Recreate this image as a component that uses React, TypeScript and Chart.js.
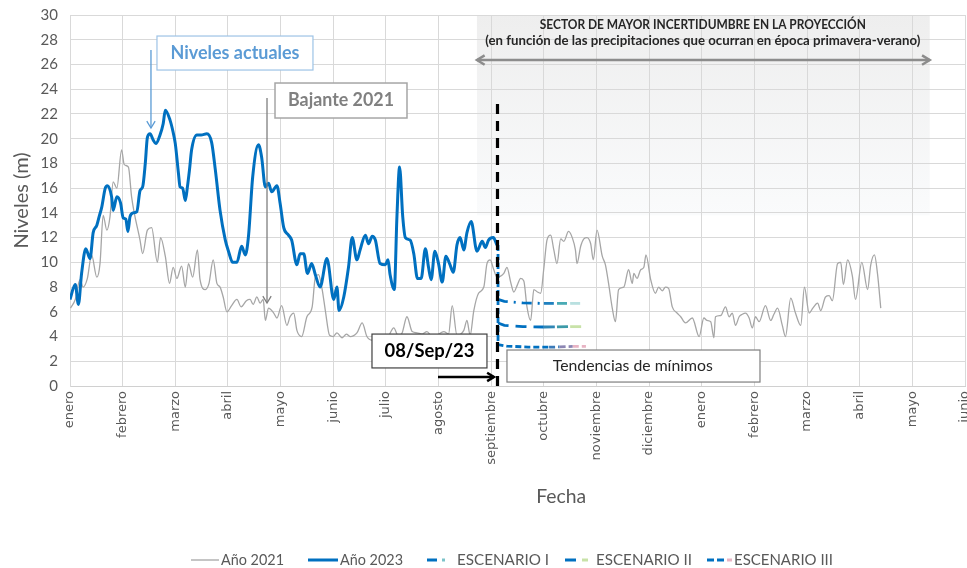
import React, { useEffect, useRef } from "react";
import { Chart, registerables } from "chart.js";
Chart.register(...registerables);

const MONTH_LABELS = ["enero","febrero","marzo","abril","mayo","junio","julio","agosto","septiembre","octubre","noviembre","diciembre","enero","febrero","marzo","abril","mayo","junio"];

const YEAR2021_X = [0.01,0.10,0.19,0.25,0.33,0.41,0.51,0.57,0.63,0.70,
0.76,0.82,0.89,0.98,1.03,1.11,1.17,1.33,1.38,
1.47,1.55,1.66,1.72,1.81,1.89,1.96,2.03,2.12,2.19,
2.25,2.33,2.42,2.47,2.57,2.64,2.72,2.79,2.85,2.91,
2.98,3.07,3.17,3.25,3.35,3.42,3.48,3.55,3.61,3.67,
3.71,3.77,3.87,3.93,4.02,4.12,4.18,4.25,4.31,4.40,
4.50,4.60,4.66,4.72,4.79,4.85,4.93,5.00,5.07,5.17,
5.25,5.32,5.45,5.55,5.64,5.74,5.82,5.89,6.02,6.15,
6.24,6.31,6.40,6.50,6.59,6.69,6.78,6.88,6.97,7.10,
7.19,7.26,7.35,7.48,7.54,7.60,7.67,7.76,7.86,7.92,
7.98,8.05,8.11,8.24,8.30,8.37,8.43,8.50,8.56,8.62,
8.68,8.75,8.81,8.88,8.94,9.00,9.06,9.13,9.19,9.25,
9.32,9.38,9.47,9.54,9.60,9.63,9.70,9.76,9.82,9.89,
9.94,10.01,10.11,10.17,10.23,10.30,10.36,10.42,10.52,10.61,
10.68,10.71,10.77,10.84,10.90,10.94,11.03,11.12,11.18,11.25,
11.31,11.37,11.44,11.53,11.60,11.69,11.82,11.95,12.04,12.10,
12.17,12.23,12.26,12.36,12.45,12.52,12.58,12.64,12.71,12.77,
12.83,12.90,12.96,13.02,13.09,13.21,13.31,13.37,13.44,13.53,
13.59,13.69,13.78,13.88,13.95,14.04,14.11,14.20,14.26,14.35,
14.42,14.48,14.58,14.64,14.69,14.77,14.86,14.92,15.04,15.15,
15.21,15.28,15.34,15.40];
const YEAR2021_Y = [6.3,7.0,8.6,8.0,8.7,10.6,8.8,9.9,13.8,12.6,
13.7,16.5,16.0,19.1,17.9,17.7,15.3,11.8,10.7,
12.6,12.8,10.0,12.0,10.5,8.3,9.6,8.7,9.7,8.0,
9.9,8.8,11.0,8.6,7.8,8.3,10.2,8.3,8.0,7.2,
6.0,6.5,7.0,6.4,6.9,7.0,6.6,7.2,6.7,7.0,
5.3,6.3,5.9,5.5,6.5,4.9,5.6,5.9,4.5,4.0,
5.6,6.4,8.8,9.0,7.8,6.1,4.1,4.0,4.3,3.9,
4.2,4.0,4.3,5.1,4.0,3.7,4.0,4.1,3.9,4.7,
4.0,4.3,5.6,4.4,4.3,4.2,4.4,4.0,4.1,4.4,
4.2,6.5,4.1,4.5,5.3,4.1,6.1,7.5,8.0,9.9,
10.2,9.4,8.8,9.1,9.6,8.4,7.6,8.2,8.7,8.5,
6.4,5.3,7.8,7.6,7.5,9.5,11.8,12.2,11.0,9.9,
11.9,11.7,12.5,12.0,11.0,9.9,11.3,11.9,12.0,11.5,
10.2,12.6,10.5,9.8,8.3,6.3,5.2,7.8,8.0,9.4,
8.3,9.1,8.7,9.4,9.6,10.6,8.6,7.5,8.0,7.7,
8.0,7.9,6.4,5.9,5.6,5.1,5.5,4.0,5.5,5.3,
5.2,3.9,5.6,5.7,6.4,5.6,5.9,4.9,5.6,5.8,
5.9,5.5,4.7,5.6,5.2,6.5,5.3,5.8,6.3,4.9,
4.0,7.1,5.9,4.9,8.0,5.9,6.3,6.7,6.1,7.2,
7.3,6.9,9.9,10.0,8.2,10.2,8.9,7.0,10.0,7.8,
9.8,10.6,9.0,6.3];

const YEAR2023_X = [0,0.10,0.16,0.22,0.30,0.38,0.44,0.51,0.56,0.60,
0.67,0.71,0.79,0.82,0.89,0.96,1.01,1.06,1.10,1.14,
1.20,1.27,1.33,1.38,1.43,1.47,1.52,1.58,1.63,1.71,
1.77,1.81,1.90,1.96,2.00,2.06,2.09,2.14,2.19,2.23,
2.27,2.31,2.41,2.49,2.60,2.69,2.76,2.85,2.95,3.01,
3.09,3.17,3.26,3.33,3.39,3.47,3.58,3.64,3.71,3.77,
3.83,3.93,3.99,4.06,4.15,4.21,4.31,4.37,4.44,4.51,
4.59,4.66,4.75,4.88,5.01,5.07,5.11,5.20,5.29,5.36,
5.45,5.51,5.61,5.67,5.74,5.80,5.89,5.99,6.04,6.08,
6.16,6.21,6.26,6.32,6.37,6.46,6.53,6.60,6.67,6.75,
6.81,6.86,6.93,7.00,7.07,7.14,7.21,7.28,7.35,7.41,
7.48,7.54,7.62,7.73,7.83,7.89,7.95,8.04,8.11];
const YEAR2023_Y = [7.0,8.2,6.6,9.1,11.1,10.3,12.4,13.0,13.8,14.4,
16.0,16.2,15.3,14.2,15.3,14.8,13.6,13.5,12.5,13.7,
14.0,14.1,15.8,16.1,18.0,20.1,20.4,19.9,19.6,20.3,
21.2,22.3,21.5,20.5,19.6,17.2,16.1,16.0,15.0,16.1,
17.5,19.1,20.3,20.3,20.4,19.7,17.5,14.2,11.8,10.9,
10.0,10.0,11.3,10.6,12.1,16.9,19.5,18.5,16.1,16.4,
15.7,16.2,14.8,12.8,12.2,11.8,9.8,10.7,10.7,9.1,
9.9,9.0,8.0,10.3,7.0,8.0,6.1,7.2,9.6,12.0,
10.2,11.0,12.2,11.5,12.1,11.8,9.9,9.8,10.2,9.0,
7.8,13.7,17.7,13.7,12.0,11.8,10.7,8.7,8.7,11.1,
9.6,8.6,10.9,9.9,8.4,10.5,9.9,9.2,11.4,12.0,
11.0,12.4,13.3,10.9,11.7,11.2,11.8,12.0,11.4];

const SCEN1_X = [8.13, 8.25, 8.6, 9.0, 9.25, 9.5, 9.77];
const SCEN1_Y = [7.0, 6.85, 6.72, 6.68, 6.68, 6.68, 6.68];
const SCEN2_X = [8.13, 8.25, 8.6, 9.0, 9.25, 9.5, 9.77];
const SCEN2_Y = [5.1, 4.9, 4.8, 4.77, 4.78, 4.8, 4.8];
const SCEN3_X = [8.13, 8.13, 8.3, 8.7, 9.1, 9.3, 9.55, 9.8];
const SCEN3_Y = [11.4, 3.35, 3.22, 3.15, 3.14, 3.16, 3.2, 3.2];
const CUTOFF_X = [8.12, 8.12];
const CUTOFF_Y = [0, 23.1];

const SERIES_NAMES = ["Año 2021", "Año 2023", "ESCENARIO I", "ESCENARIO II", "ESCENARIO III"];

const pts = (xs: number[], ys: number[]) => xs.map((x, i) => ({ x, y: ys[i] }));

const SCEN1_COLORS = ["#0070c0", "#0070c0", "#0070c0", "#1f80bf", "#4aabb5", "#b9e0e0"];
const SCEN2_COLORS = ["#0070c0", "#0070c0", "#0070c0", "#2f86b5", "#3d9aa8", "#c8e2a8"];
const SCEN3_COLORS = ["#0070c0", "#0070c0", "#0070c0", "#0070c0", "#3a7ab8", "#8c86b3", "#e8b4c4"];

const FAM = "Lato, 'Open Sans', sans-serif";

// draw text with a fixed font size, condensed horizontally to the wanted width
function drawFit(ctx: CanvasRenderingContext2D, text: string, x: number, y: number, font: string, target: number, align: CanvasTextAlign) {
  ctx.font = font;
  const w = ctx.measureText(text).width || 1;
  const sx = Math.max(0.72, Math.min(1.3, target / w));
  ctx.save();
  ctx.translate(x, y);
  ctx.scale(sx, 1);
  ctx.textAlign = align;
  ctx.textBaseline = "middle";
  ctx.fillText(text, 0, 0);
  ctx.restore();
}

function arrowHead(ctx: CanvasRenderingContext2D, x1: number, y1: number, x2: number, y2: number, len: number) {
  const a = Math.atan2(y2 - y1, x2 - x1);
  ctx.beginPath();
  ctx.moveTo(x2 - len * Math.cos(a - 0.55), y2 - len * Math.sin(a - 0.55));
  ctx.lineTo(x2, y2);
  ctx.lineTo(x2 - len * Math.cos(a + 0.55), y2 - len * Math.sin(a + 0.55));
  ctx.stroke();
}

function arrow(ctx: CanvasRenderingContext2D, x1: number, y1: number, x2: number, y2: number, color: string, width: number, len: number, both = false) {
  ctx.save();
  ctx.strokeStyle = color;
  ctx.lineWidth = width;
  ctx.setLineDash([]);
  ctx.beginPath();
  ctx.moveTo(x1, y1);
  ctx.lineTo(x2, y2);
  ctx.stroke();
  arrowHead(ctx, x1, y1, x2, y2, len);
  if (both) arrowHead(ctx, x2, y2, x1, y1, len);
  ctx.restore();
}

function box(ctx: CanvasRenderingContext2D, x0: number, y0: number, x1: number, y1: number, border: string, lw: number) {
  ctx.save();
  ctx.fillStyle = "#ffffff";
  ctx.fillRect(x0, y0, x1 - x0, y1 - y0);
  ctx.strokeStyle = border;
  ctx.lineWidth = lw;
  ctx.strokeRect(x0, y0, x1 - x0, y1 - y0);
  ctx.restore();
}

function seg(ctx: CanvasRenderingContext2D, x0: number, x1: number, y: number, color: string, lw: number) {
  ctx.strokeStyle = color;
  ctx.lineWidth = lw;
  ctx.beginPath();
  ctx.moveTo(x0, y);
  ctx.lineTo(x1, y);
  ctx.stroke();
}

const annotPlugin = {
  id: "annot",
  beforeDraw(chart: any) {
    const { ctx, scales } = chart;
    const X = (v: number) => scales.x.getPixelForValue(v);
    const Y = (v: number) => scales.y.getPixelForValue(v);
    const x0 = X(7.73), x1 = X(16.33), y0 = Y(30), y1 = Y(13.8);
    const g = ctx.createLinearGradient(0, y0, 0, y1);
    g.addColorStop(0, "#eeeeee");
    g.addColorStop(1, "#fafbfc");
    ctx.save();
    ctx.fillStyle = g;
    ctx.fillRect(x0, y0, x1 - x0, y1 - y0);
    ctx.restore();
  },
  afterDatasetsDraw(chart: any) {
    const { ctx, scales, chartArea } = chart;
    const X = (v: number) => scales.x.getPixelForValue(v);
    const Y = (v: number) => scales.y.getPixelForValue(v);
    ctx.save();

    // Header of uncertain sector
    ctx.fillStyle = "#262626";
    drawFit(ctx, "SECTOR DE MAYOR INCERTIDUMBRE EN LA PROYECCIÓN", X(12.02), Y(29.27), `bold 14px ${FAM}`, 326, "center");
    drawFit(ctx, "(en función de las precipitaciones que ocurran en época primavera-verano)", X(12.02), Y(27.9), `bold 14px ${FAM}`, 435, "center");
    arrow(ctx, X(7.73), Y(26.36), X(16.33), Y(26.36), "#8c8c8c", 2.5, 9, true);

    // Niveles actuales
    box(ctx, X(1.652), Y(28.3), X(4.615), Y(25.55), "#9dc3e6", 1.2);
    ctx.fillStyle = "#5b9bd5";
    drawFit(ctx, "Niveles actuales", X(3.134), Y(26.93), `bold 18px ${FAM}`, 129, "center");
    arrow(ctx, X(1.538), Y(27.17), X(1.538), Y(20.86), "#5b9bd5", 1.3, 8);

    // Bajante 2021
    box(ctx, X(3.894), Y(24.5), X(6.401), Y(21.67), "#a6a6a6", 1.5);
    ctx.fillStyle = "#808080";
    drawFit(ctx, "Bajante 2021", X(5.147), Y(23.09), `bold 18px ${FAM}`, 106, "center");
    arrow(ctx, X(3.742), Y(23.29), X(3.742), Y(6.71), "#7f7f7f", 1.3, 8);

    // 08/Sep/23
    box(ctx, X(5.736), Y(4.2), X(7.92), Y(1.46), "#404040", 1.2);
    ctx.fillStyle = "#000000";
    drawFit(ctx, "08/Sep/23", X(6.828), Y(2.83), `bold 18px ${FAM}`, 90, "center");
    arrow(ctx, X(6.99), Y(0.73), X(8.053), Y(0.73), "#000000", 2.5, 8);

    // Tendencias de mínimos
    box(ctx, X(8.3), Y(2.91), X(13.106), Y(0.32), "#7f7f7f", 1.2);
    ctx.fillStyle = "#262626";
    drawFit(ctx, "Tendencias de mínimos", X(10.69), Y(1.62), `15px ${FAM}`, 160, "center");

    // X axis title
    ctx.fillStyle = "#595959";
    drawFit(ctx, "Fecha", X(9.33), chartArea.bottom + 111, `20px ${FAM}`, 50, "center");

    // Legend
    const ly = chart.height - 8;
    const lw = 15;
    ctx.setLineDash([]);
    ctx.lineCap = "butt";
    seg(ctx, 191, 219, ly, "#a6a6a6", 1.3);
    seg(ctx, 308, 338, ly, "#0070c0", 3);
    seg(ctx, 427, 437, ly, "#0070c0", 3);
    seg(ctx, 442, 445, ly, "#7cc3c9", 3);
    seg(ctx, 565, 576, ly, "#0070c0", 3);
    seg(ctx, 582, 588, ly, "#c8e2a8", 3);
    seg(ctx, 707, 714, ly, "#0070c0", 3);
    seg(ctx, 717, 724, ly, "#0070c0", 3);
    seg(ctx, 727, 732, ly, "#e8b4c4", 3);
    ctx.fillStyle = "#595959";
    const lf = `${lw}px ${FAM}`;
    drawFit(ctx, SERIES_NAMES[0], 221, ly, lf, 63, "left");
    drawFit(ctx, SERIES_NAMES[1], 340, ly, lf, 63, "left");
    drawFit(ctx, SERIES_NAMES[2], 457, ly, lf, 92, "left");
    drawFit(ctx, SERIES_NAMES[3], 596, ly, lf, 96, "left");
    drawFit(ctx, SERIES_NAMES[4], 734, ly, lf, 99, "left");
    ctx.restore();
  },
};

export default function App() {
  const ref = useRef<HTMLCanvasElement | null>(null);
  useEffect(() => {
    if (!ref.current) return;
    const chart = new Chart(ref.current, {
      type: "line",
      data: {
        datasets: [
          {
            label: SERIES_NAMES[0], data: pts(YEAR2021_X, YEAR2021_Y),
            borderColor: "#a6a6a6", backgroundColor: "#a6a6a6", borderWidth: 1.3,
            pointRadius: 0, cubicInterpolationMode: "monotone", order: 3,
          },
          {
            label: SERIES_NAMES[1], data: pts(YEAR2023_X, YEAR2023_Y),
            borderColor: "#0070c0", backgroundColor: "#0070c0", borderWidth: 3,
            pointRadius: 0, cubicInterpolationMode: "monotone", order: 2,
          },
          {
            label: SERIES_NAMES[2], data: pts(SCEN1_X, SCEN1_Y),
            borderColor: "#0070c0", backgroundColor: "#0070c0", borderWidth: 2.8, borderDash: [10, 6, 2, 6],
            pointRadius: 0, tension: 0, order: 1,
            segment: { borderColor: (c: any) => SCEN1_COLORS[c.p0DataIndex] },
          },
          {
            label: SERIES_NAMES[3], data: pts(SCEN2_X, SCEN2_Y),
            borderColor: "#0070c0", backgroundColor: "#0070c0", borderWidth: 2.8, borderDash: [11, 7],
            pointRadius: 0, tension: 0, order: 1,
            segment: { borderColor: (c: any) => SCEN2_COLORS[c.p0DataIndex] },
          },
          {
            label: SERIES_NAMES[4], data: pts(SCEN3_X, SCEN3_Y),
            borderColor: "#0070c0", backgroundColor: "#0070c0", borderWidth: 2.8, borderDash: [6, 3],
            pointRadius: 0, tension: 0, order: 1,
            segment: { borderColor: (c: any) => SCEN3_COLORS[c.p0DataIndex] },
          },
          {
            label: "corte", data: pts(CUTOFF_X, CUTOFF_Y),
            borderColor: "#000000", backgroundColor: "#000000", borderWidth: 3.2, borderDash: [10, 7],
            pointRadius: 0, tension: 0, order: 0,
          },
        ],
      },
      options: {
        responsive: false,
        animation: false,
        events: [],
        layout: { padding: { top: 15, right: 2, left: 0, bottom: 0 } },
        plugins: {
          tooltip: { enabled: false },
          legend: { display: false },
        },
        scales: {
          x: {
            type: "linear",
            min: 0,
            max: 17,
            ticks: {
              stepSize: 1,
              autoSkip: false,
              maxRotation: 90,
              minRotation: 90,
              padding: 5,
              color: "#595959",
              font: { family: "'DejaVu Sans', sans-serif", size: 13 },
              callback: (v: any) => MONTH_LABELS[Math.round(Number(v))] ?? "",
            },
            grid: { color: "#d9d9d9", drawTicks: false, lineWidth: 1 },
            border: { color: "#d0d0d0" },
            afterFit: (s: any) => {
              s.height = s.chart.height - 386;
              s.paddingLeft = 0;
              s.paddingRight = 0;
            },
          },
          y: {
            min: 0,
            max: 30,
            ticks: {
              stepSize: 2,
              padding: 12,
              color: "#595959",
              font: { family: FAM, size: 15 },
            },
            grid: { color: "#d9d9d9", drawTicks: false, lineWidth: 1 },
            border: { color: "#d9d9d9" },
            title: {
              display: true,
              text: "Niveles (m)",
              color: "#595959",
              font: { family: FAM, size: 20 },
              padding: { top: 10, bottom: 0 },
            },
            afterFit: (s: any) => {
              s.width = 70;
              s.paddingTop = 0;
              s.paddingBottom = 0;
            },
          },
        },
      },
      plugins: [annotPlugin],
    } as any);
    return () => chart.destroy();
  }, []);
  return (
    <div style={{ position: "absolute", left: 0, top: 0, width: 967, height: 568, background: "#fff", overflow: "hidden" }}>
      <canvas ref={ref} width={967} height={568} style={{ display: "block" }} />
    </div>
  );
}
